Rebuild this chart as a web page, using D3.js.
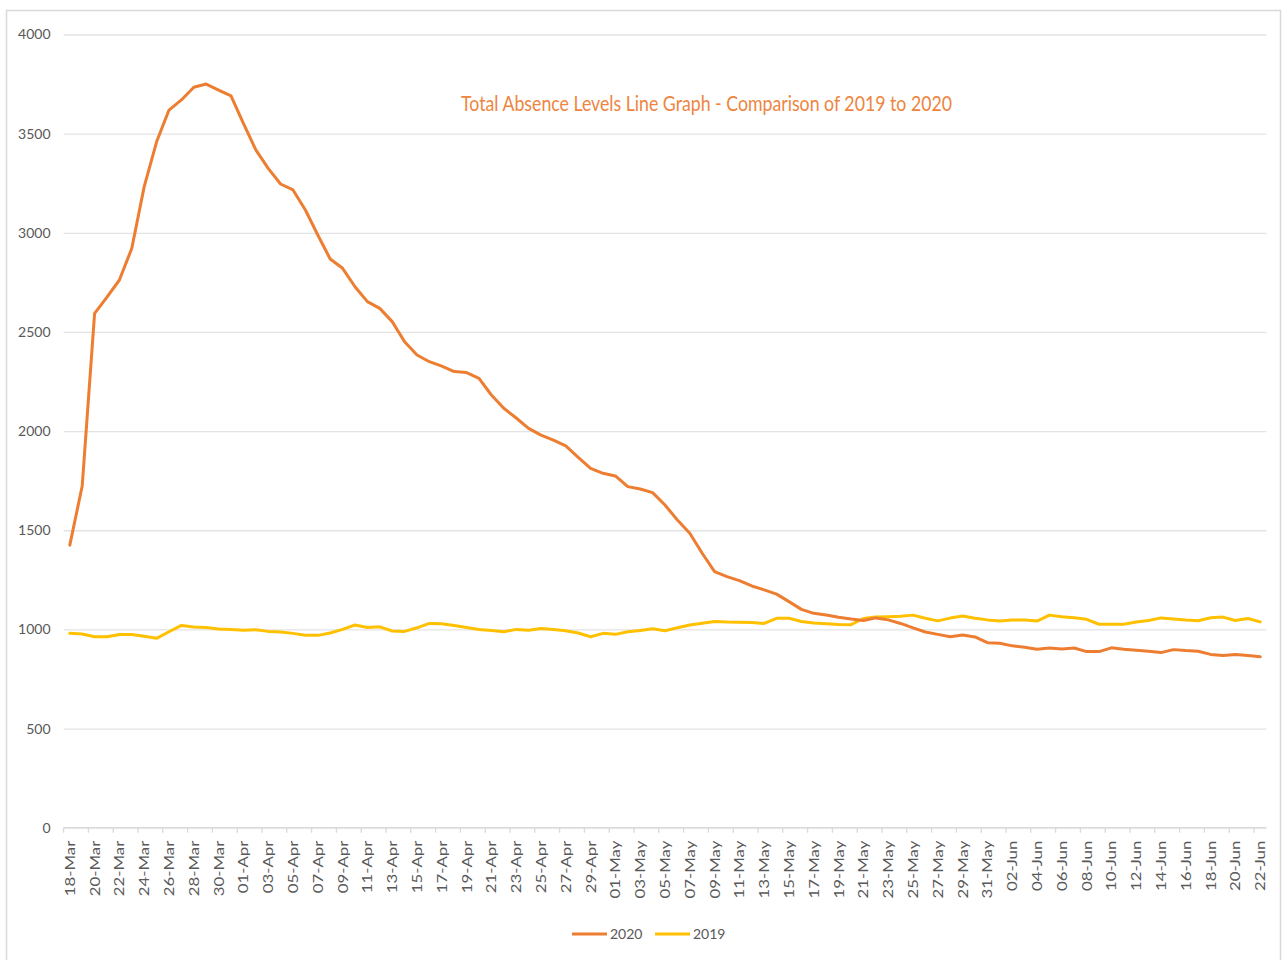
<!DOCTYPE html>
<html>
<head>
<meta charset="utf-8">
<script src="https://cdn.jsdelivr.net/npm/d3@7"></script>
<style>
  html, body { margin: 0; padding: 0; background: #fff; }
  svg { display: block; font-family: Lato, "Open Sans", sans-serif; }
</style>
</head>
<body>
<svg id="chart" width="1285" height="960"></svg>
<script>
// Daily categories: 18 March to 22 June
const firstDay = new Date(2020, 2, 18);
const lastDay = new Date(2020, 5, 22);
const dayLabels = d3.timeDay.range(firstDay, d3.timeDay.offset(lastDay, 1)).map(d3.timeFormat("%d-%b"));

// Total absences per day, 2020
const absences2020 = [
  1425, 1723, 2594, 2676, 2762, 2922, 3233, 3459, 3619, 3670,
  3734, 3750, 3720, 3690, 3552, 3418, 3325, 3246, 3216, 3115,
  2989, 2868, 2821, 2728, 2653, 2619, 2552, 2451, 2384, 2350,
  2328, 2300, 2295, 2266, 2182, 2115, 2066, 2014, 1980, 1955,
  1925, 1868, 1812, 1787, 1774, 1720, 1708, 1690, 1627, 1552,
  1485, 1384, 1291, 1266, 1246, 1219, 1199, 1178, 1140, 1101,
  1081, 1073, 1061, 1052, 1045, 1058, 1048, 1030, 1008, 987,
  975, 963, 972, 962, 933, 930, 917, 910, 900, 906,
  901, 906, 888, 888, 907, 900, 895, 890, 883, 898,
  893, 890, 874, 868, 874, 868, 862
];

// Total absences per day, same period of 2019
const absences2019 = [
  980, 977, 963, 963, 974, 974, 965, 955, 988, 1020,
  1012, 1010, 1002, 999, 996, 998, 990, 987, 980, 970,
  970, 982, 1000, 1022, 1010, 1013, 992, 990, 1008, 1030,
  1028, 1020, 1010, 1000, 995, 988, 1000, 996, 1004, 1000,
  993, 982, 963, 980, 975, 988, 995, 1003, 993, 1008,
  1022, 1031, 1040, 1037, 1036, 1035, 1030, 1056, 1056, 1040,
  1032, 1028, 1025, 1024, 1055, 1063, 1064, 1066, 1072, 1056,
  1043, 1057, 1068, 1056, 1048, 1042, 1047, 1047, 1042, 1072,
  1064, 1059, 1051, 1026, 1026, 1026, 1037, 1045, 1058, 1052,
  1047, 1044, 1059, 1062, 1045, 1055, 1038
];

const yTicks = [0, 500, 1000, 1500, 2000, 2500, 3000, 3500, 4000];
const seriesNames = ["2020", "2019"];
const seriesColors = ["#ED7D31", "#FFC000"];
const chartTitle = "Total Absence Levels Line Graph - Comparison of 2019 to 2020";

const svg = d3.select("#chart");
const plot = { left: 63.6, right: 1266.4, top: 34.5, bottom: 827.7 };

// Outer chart frame
svg.append("rect")
  .attr("x", 6.5).attr("y", 10.5)
  .attr("width", 1274).attr("height", 960)
  .attr("fill", "#fff").attr("stroke", "#d9d9d9").attr("stroke-width", 1.5);

const x = d3.scaleBand()
  .domain(d3.range(dayLabels.length))
  .range([plot.left, plot.right])
  .paddingInner(0).paddingOuter(0);
const cx = i => x(i) + x.bandwidth() / 2;

const y = d3.scaleLinear().domain([0, 4000]).range([plot.bottom, plot.top]);

// Horizontal gridlines + value labels
const yAxis = svg.append("g")
  .attr("transform", `translate(${plot.left},0)`)
  .call(d3.axisLeft(y)
    .tickValues(yTicks)
    .tickFormat(d3.format("d"))
    .tickSize(-(plot.right - plot.left))
    .tickPadding(13));
yAxis.select(".domain").remove();
yAxis.selectAll(".tick line").attr("stroke", "#e3e3e3").attr("stroke-width", 1.3);
yAxis.selectAll(".tick text")
  .attr("fill", "#595959")
  .style("font-size", "14px")
  .style("font-family", "Lato, sans-serif");

// Category axis baseline and tick marks every second day
const xg = svg.append("g");
xg.append("line")
  .attr("x1", plot.left).attr("x2", plot.right)
  .attr("y1", y(0)).attr("y2", y(0))
  .attr("stroke", "#d9d9d9").attr("stroke-width", 1.3);
xg.selectAll("line.tk")
  .data(d3.range(0, dayLabels.length, 2))
  .join("line")
  .attr("class", "tk")
  .attr("x1", i => x(i)).attr("x2", i => x(i))
  .attr("y1", y(0)).attr("y2", y(0) + 5)
  .attr("stroke", "#d9d9d9").attr("stroke-width", 1.3);

// Rotated day labels
xg.selectAll("text.day")
  .data(d3.range(0, dayLabels.length, 2))
  .join("text")
  .attr("class", "day")
  .attr("transform", i => `translate(${cx(i)},${y(0) + 13}) rotate(-90) scale(1.2,1)`)
  .attr("text-anchor", "end")
  .attr("dy", "0.36em")
  .attr("fill", "#595959")
  .style("font-size", "14px")
  .text(i => dayLabels[i]);

// Series lines (2019 first so 2020 sits above it)
const line = d3.line().x((d, i) => cx(i)).y(d => y(d));
[[absences2019, seriesColors[1]], [absences2020, seriesColors[0]]].forEach(([vals, color]) => {
  svg.append("path")
    .datum(vals)
    .attr("fill", "none")
    .attr("stroke", color)
    .attr("stroke-width", 3)
    .attr("stroke-linejoin", "round")
    .attr("stroke-linecap", "round")
    .attr("d", line);
});

// Title inside the plot area
svg.append("text")
  .attr("x", 461).attr("y", 111)
  .attr("textLength", 491)
  .attr("lengthAdjust", "spacingAndGlyphs")
  .attr("fill", "#EE8540")
  .style("font-size", "22px")
  .text(chartTitle);

// Legend
const legend = svg.append("g");
const legendX = [572, 655];
seriesNames.forEach((name, k) => {
  legend.append("line")
    .attr("x1", legendX[k]).attr("x2", legendX[k] + 35)
    .attr("y1", 934).attr("y2", 934)
    .attr("stroke", seriesColors[k]).attr("stroke-width", 3);
  legend.append("text")
    .attr("x", legendX[k] + 38).attr("y", 939)
    .attr("fill", "#595959")
    .style("font-size", "14px")
    .text(name);
});
</script>
</body>
</html>
